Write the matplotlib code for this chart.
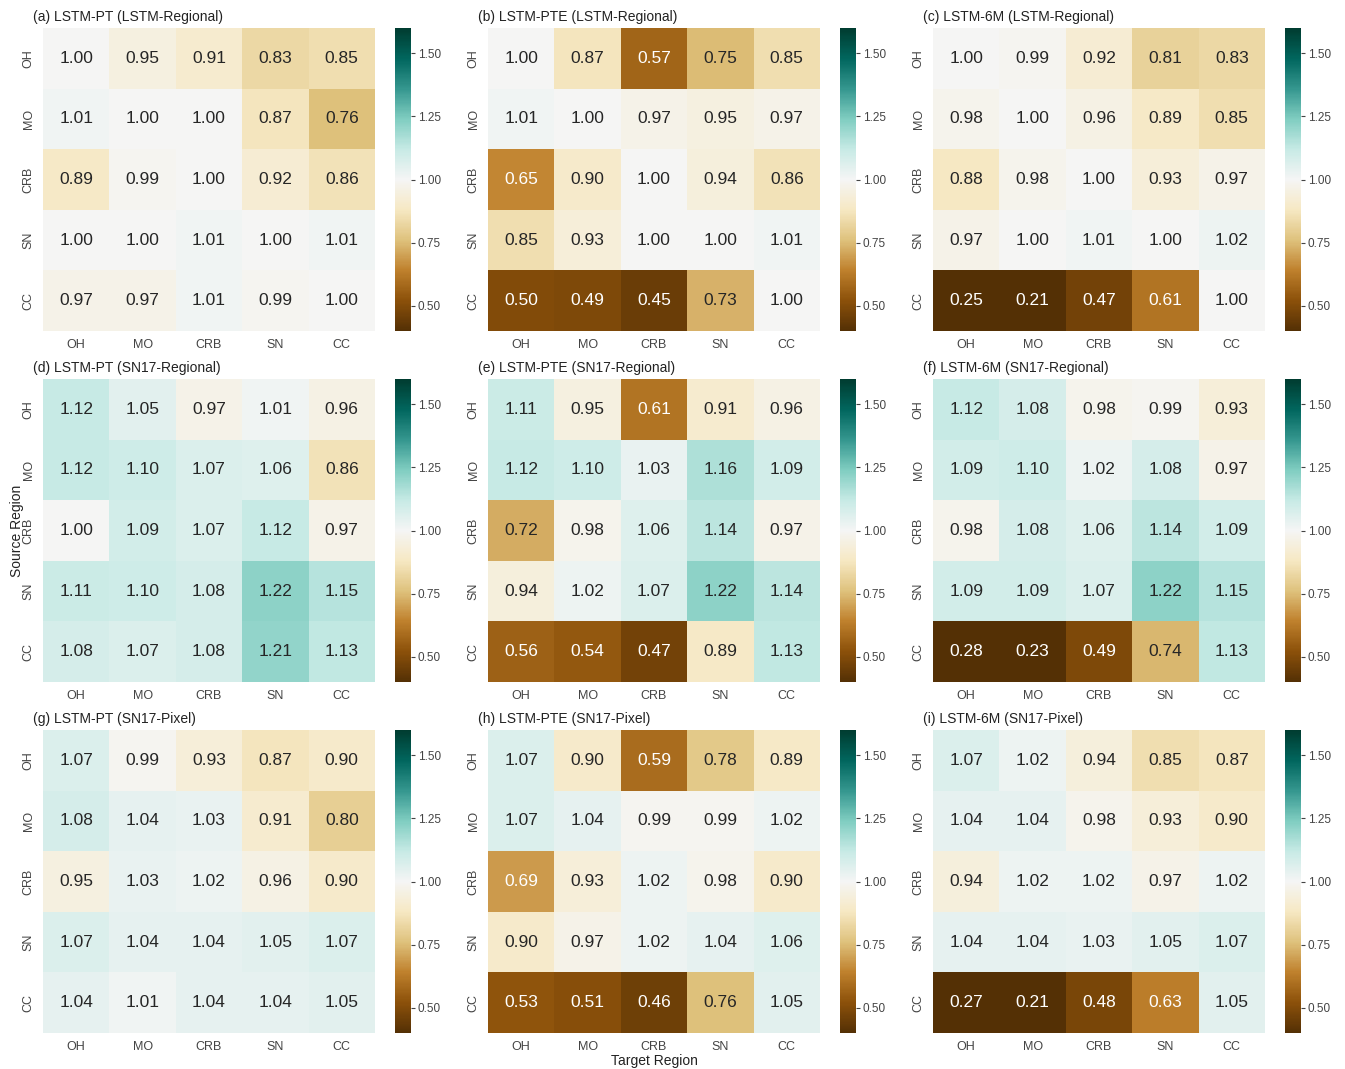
import numpy as np
import matplotlib
matplotlib.use("Agg")
import matplotlib.pyplot as plt
import seaborn as sns

plt.rcParams['font.family'] = ['Liberation Sans', 'DejaVu Sans']

regions = ["OH", "MO", "CRB", "SN", "CC"]

titles = [
    "(a) LSTM-PT (LSTM-Regional)", "(b) LSTM-PTE (LSTM-Regional)", "(c) LSTM-6M (LSTM-Regional)",
    "(d) LSTM-PT (SN17-Regional)", "(e) LSTM-PTE (SN17-Regional)", "(f) LSTM-6M (SN17-Regional)",
    "(g) LSTM-PT (SN17-Pixel)", "(h) LSTM-PTE (SN17-Pixel)", "(i) LSTM-6M (SN17-Pixel)",
]

pt_lstm_regional = [
    [1.00, 0.95, 0.91, 0.83, 0.85],
    [1.01, 1.00, 1.00, 0.87, 0.76],
    [0.89, 0.99, 1.00, 0.92, 0.86],
    [1.00, 1.00, 1.01, 1.00, 1.01],
    [0.97, 0.97, 1.01, 0.99, 1.00],
]
pte_lstm_regional = [
    [1.00, 0.87, 0.57, 0.75, 0.85],
    [1.01, 1.00, 0.97, 0.95, 0.97],
    [0.65, 0.90, 1.00, 0.94, 0.86],
    [0.85, 0.93, 1.00, 1.00, 1.01],
    [0.50, 0.49, 0.45, 0.73, 1.00],
]
m6_lstm_regional = [
    [1.00, 0.99, 0.92, 0.81, 0.83],
    [0.98, 1.00, 0.96, 0.89, 0.85],
    [0.88, 0.98, 1.00, 0.93, 0.97],
    [0.97, 1.00, 1.01, 1.00, 1.02],
    [0.25, 0.21, 0.47, 0.61, 1.00],
]
pt_sn17_regional = [
    [1.12, 1.05, 0.97, 1.01, 0.96],
    [1.12, 1.10, 1.07, 1.06, 0.86],
    [1.00, 1.09, 1.07, 1.12, 0.97],
    [1.11, 1.10, 1.08, 1.22, 1.15],
    [1.08, 1.07, 1.08, 1.21, 1.13],
]
pte_sn17_regional = [
    [1.11, 0.95, 0.61, 0.91, 0.96],
    [1.12, 1.10, 1.03, 1.16, 1.09],
    [0.72, 0.98, 1.06, 1.14, 0.97],
    [0.94, 1.02, 1.07, 1.22, 1.14],
    [0.56, 0.54, 0.47, 0.89, 1.13],
]
m6_sn17_regional = [
    [1.12, 1.08, 0.98, 0.99, 0.93],
    [1.09, 1.10, 1.02, 1.08, 0.97],
    [0.98, 1.08, 1.06, 1.14, 1.09],
    [1.09, 1.09, 1.07, 1.22, 1.15],
    [0.28, 0.23, 0.49, 0.74, 1.13],
]
pt_sn17_pixel = [
    [1.07, 0.99, 0.93, 0.87, 0.90],
    [1.08, 1.04, 1.03, 0.91, 0.80],
    [0.95, 1.03, 1.02, 0.96, 0.90],
    [1.07, 1.04, 1.04, 1.05, 1.07],
    [1.04, 1.01, 1.04, 1.04, 1.05],
]
pte_sn17_pixel = [
    [1.07, 0.90, 0.59, 0.78, 0.89],
    [1.07, 1.04, 0.99, 0.99, 1.02],
    [0.69, 0.93, 1.02, 0.98, 0.90],
    [0.90, 0.97, 1.02, 1.04, 1.06],
    [0.53, 0.51, 0.46, 0.76, 1.05],
]
m6_sn17_pixel = [
    [1.07, 1.02, 0.94, 0.85, 0.87],
    [1.04, 1.04, 0.98, 0.93, 0.90],
    [0.94, 1.02, 1.02, 0.97, 1.02],
    [1.04, 1.04, 1.03, 1.05, 1.07],
    [0.27, 0.21, 0.48, 0.63, 1.05],
]

matrices = [
    pt_lstm_regional, pte_lstm_regional, m6_lstm_regional,
    pt_sn17_regional, pte_sn17_regional, m6_sn17_regional,
    pt_sn17_pixel, pte_sn17_pixel, m6_sn17_pixel,
]

W, H = 1345, 1069
fig = plt.figure(figsize=(W / 100, H / 100), dpi=100)

heat_x = [43, 488, 933]
cbar_x = [395, 840, 1285]
row_y = [28, 379, 730]
heat_w, heat_h = 332, 303
cbar_w = 16

tick_color = "#444444"

def frac(x, y, w, h):
    return [x / W, 1 - (y + h) / H, w / W, h / H]

for k, (mat, title) in enumerate(zip(matrices, titles)):
    r, c = divmod(k, 3)
    ax = fig.add_axes(frac(heat_x[c], row_y[r], heat_w, heat_h))
    cax = fig.add_axes(frac(cbar_x[c], row_y[r], cbar_w, heat_h))
    sns.heatmap(np.array(mat), ax=ax, cbar_ax=cax, cmap="BrBG",
                vmin=0.4, vmax=1.6, center=1.0,
                annot=True, fmt=".2f", annot_kws={"fontsize": 12.5},
                xticklabels=regions, yticklabels=regions)
    ax.tick_params(axis="x", length=0, pad=6, labelsize=9, labelcolor=tick_color)
    ax.tick_params(axis="y", length=0, pad=6, labelsize=9, labelcolor=tick_color)
    ax.set_yticklabels(regions, rotation=90, va="center")
    ax.set_xticklabels(regions, rotation=0)
    ax.text(-10 / heat_w, 1 + 11 / heat_h, title, transform=ax.transAxes,
            fontsize=10, ha="left", va="center", color="#222222")
    cax.set_yticks([0.5, 0.75, 1.0, 1.25, 1.5])
    cax.set_yticklabels(["0.50", "0.75", "1.00", "1.25", "1.50"])
    cax.tick_params(labelsize=8.5, labelcolor=tick_color, length=3, width=0.8,
                    color=tick_color, pad=2)
    for s in cax.spines.values():
        s.set_visible(False)
    if k == 3:
        ax.set_ylabel("Source Region", fontsize=10, color="#222222")
        ax.yaxis.set_label_coords(-19 / heat_w, 0.5)
    if k == 7:
        ax.set_xlabel("Target Region", fontsize=10, color="#222222")
        ax.xaxis.set_label_coords(0.5, -21 / heat_h)

fig.savefig("out.png", dpi=100)
